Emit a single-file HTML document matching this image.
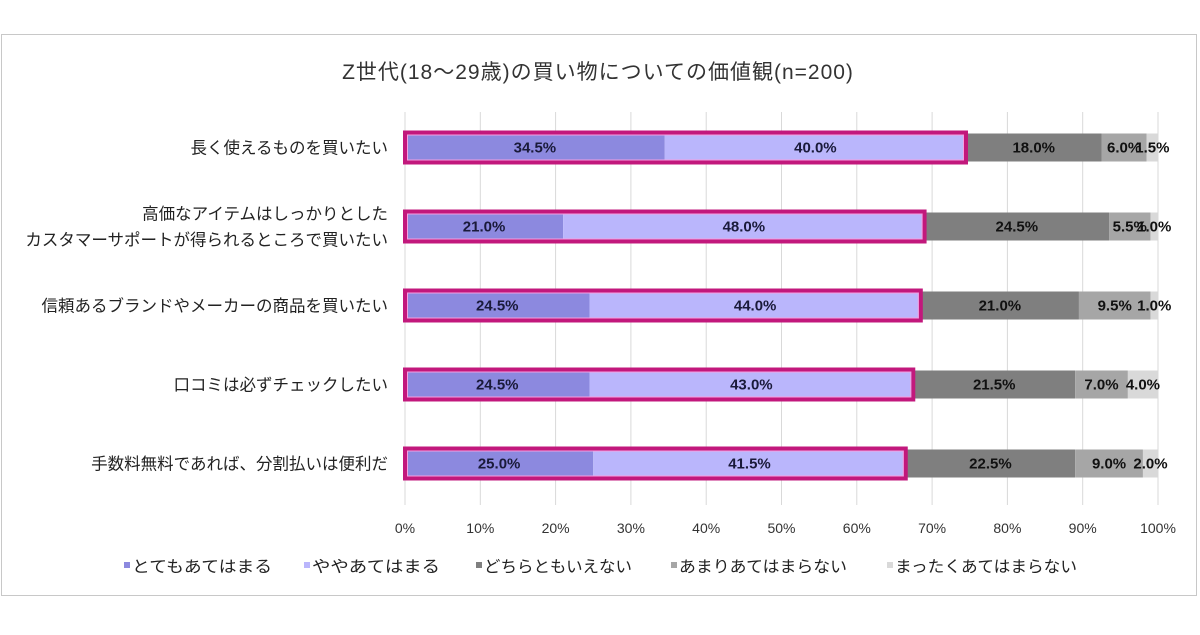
<!DOCTYPE html>
<html><head><meta charset="utf-8"><style>
body{margin:0;background:#fff;}
svg text{font-family:"Liberation Sans","Noto Sans CJK JP",sans-serif;}
</style></head><body>
<svg id="chart" width="1200" height="630" viewBox="0 0 1200 630" xmlns="http://www.w3.org/2000/svg">
<rect x="1.5" y="34.5" width="1195" height="561" fill="#fff" stroke="#c8c8c8" stroke-width="1"/>
<text x="598" y="79" font-size="21" letter-spacing="1" text-anchor="middle" fill="#333">Z世代(18～29歳)の買い物についての価値観(n=200)</text>
<g id="grid"></g><g id="bars"></g><g id="labels"></g><g id="ticks"></g><g id="legend"></g>
</svg>
<script>
const categories=[["長く使えるものを買いたい"],["高価なアイテムはしっかりとした","カスタマーサポートが得られるところで買いたい"],["信頼あるブランドやメーカーの商品を買いたい"],["口コミは必ずチェックしたい"],["手数料無料であれば、分割払いは便利だ"]];
const seriesNames=["とてもあてはまる","ややあてはまる","どちらともいえない","あまりあてはまらない","まったくあてはまらない"];
const s1=[34.5,21.0,24.5,24.5,25.0];
const s2=[40.0,48.0,44.0,43.0,41.5];
const s3=[18.0,24.5,21.0,21.5,22.5];
const s4=[6.0,5.5,9.5,7.0,9.0];
const s5=[1.5,1.0,1.0,4.0,2.0];
const tickLabels=["0%","10%","20%","30%","40%","50%","60%","70%","80%","90%","100%"];
const tickValues=[0,10,20,30,40,50,60,70,80,90,100];
const NS="http://www.w3.org/2000/svg";
const colors=["#8c89df","#bab6fc","#7f7f7f","#a6a6a6","#d9d9d9"];
const x0=405,x1=1158,topY=108,step=79;
const xs=v=>x0+(x1-x0)*v/100;
const yc=i=>topY+step*(i+0.5);
const bh=28;
function mk(tag,attrs,parent,txt){const e=document.createElementNS(NS,tag);for(const k in attrs)e.setAttribute(k,attrs[k]);if(txt!==undefined)e.textContent=txt;document.getElementById(parent).appendChild(e);return e;}
tickValues.forEach((t,i)=>{
  const l=mk('line',{x1:xs(t),x2:xs(t),y1:112,y2:505,stroke:'#d9d9d9','stroke-width':1},'grid');
  
  
  const tx=mk('text',{x:xs(t),y:533,'font-size':14,'text-anchor':'middle',fill:'#333'},'ticks',tickLabels[i]);
  
  
});
const series=[s1,s2,s3,s4,s5];
categories.forEach((c,i)=>{
  let acc=0;const y=yc(i);
  series.forEach((s,j)=>{
    const v=s[i];
    const r=mk('rect',{x:xs(acc),y:y-bh/2,width:xs(acc+v)-xs(acc),height:bh,fill:colors[j]},'bars');
    
    
    const t=mk('text',{x:(xs(acc)+xs(acc+v))/2,y:y+5,'font-size':15,'font-weight':'bold','text-anchor':'middle',fill:j<2?'#1a1a3a':'#111'},'labels',v.toFixed(1)+'%');
    
    
    acc+=v;
  });
  const hb=mk('rect',{x:xs(0),y:y-bh/2-1,width:xs(s1[i]+s2[i])-xs(0),height:bh+2,fill:'none',stroke:'#c2187c','stroke-width':4},'bars');
  
  
  const hi=mk('rect',{x:xs(0)+2.5,y:y-bh/2+1.5,width:xs(s1[i]+s2[i])-xs(0)-5,height:bh-3,fill:'none',stroke:'#f5a0e0','stroke-width':1},'bars');
  
  
  c.forEach((line,k)=>{
    const ly=y+6+(k-(c.length-1)/2)*26;
    const t=mk('text',{x:388,y:ly,'font-size':16.5,'text-anchor':'end',fill:'#222'},'labels',line);
    
    
  });
});
const legX=[124,304,476,671,887];
const legW=[140,128,148,168,182];
seriesNames.forEach((n,j)=>{
  const r=mk('rect',{x:legX[j],y:562,width:6,height:6,fill:colors[j]},'legend');
  
  
  const t=mk('text',{x:legX[j]+8,y:572,'font-size':16,fill:'#222',textLength:legW[j],lengthAdjust:'spacingAndGlyphs'},'legend',n);
  
  
});
</script>
</body></html>
